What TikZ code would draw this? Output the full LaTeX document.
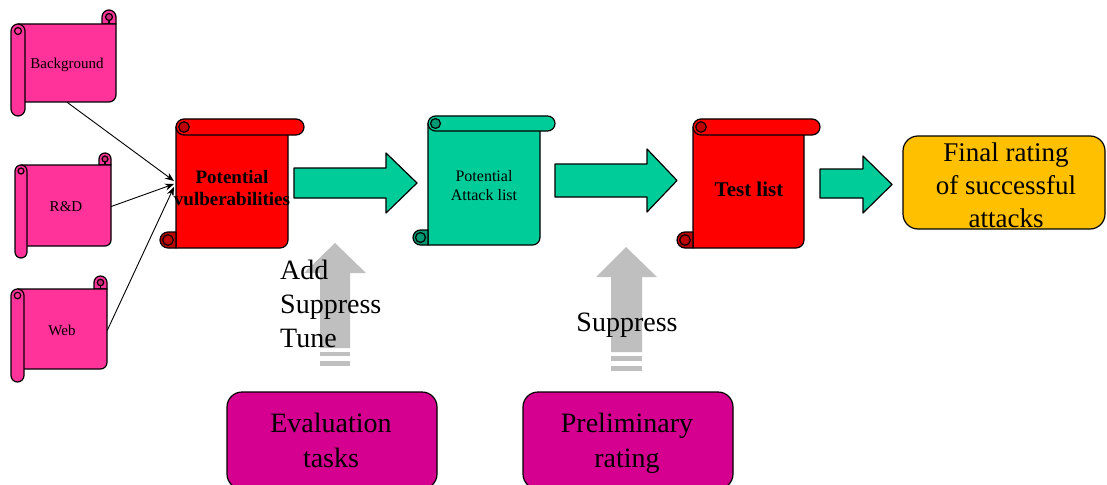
\documentclass[tikz,border=0pt]{standalone}
\usepackage{fontspec}
\setmainfont{Liberation Serif}
\usetikzlibrary{arrows.meta,calc}
\definecolor{pinkS}{HTML}{FF3399}
\definecolor{redS}{HTML}{FF0000}
\definecolor{tealS}{HTML}{00CC99}
\definecolor{goldS}{HTML}{FFC000}
\definecolor{magS}{HTML}{D5008F}
\definecolor{grayA}{HTML}{BFBFBF}
\tikzset{
  outl/.style={draw=black, line width=1.2pt, line join=round},
  conn/.style={draw=black, line width=0.9pt, -{Stealth[length=9pt,width=7pt]}},
  blockarrow/.style={outl, fill=tealS},
  grayarrow/.style={fill=grayA, draw=none},
  smalltxt/.style={font=\fontsize{15}{18}\selectfont, align=center, inner sep=0pt},
  bigbox/.style={outl, rounded corners=15pt, inner sep=0pt},
  bigtxt/.style={font=\fontsize{28}{34}\selectfont, align=center, inner sep=0pt}
}
% vertical scroll: x0 y0 x1 y1 fill roll
\newcommand\vscroll[6]{%
  \pgfmathsetmacro\hh{#6/2}%
  \pgfmathsetmacro\qq{#6/4}%
  \filldraw[outl,fill=#5] ({#3-#6},{#2+#6}) -- ({#3-#6},{#2+\hh}) arc[start angle=180,end angle=360,radius=\hh] -- ({#3},{#2+#6}) -- cycle;
  \filldraw[outl,fill=#5] ({#1+\hh},{#2+#6}) -- ({#3},{#2+#6}) -- ({#3},{#4-#6-\hh}) arc[start angle=0,end angle=90,radius=\hh] -- ({#1+\hh},{#4-#6}) -- cycle;
  \filldraw[outl,fill=#5,rounded corners=\hh pt] ({#1},{#2+#6}) rectangle ({#1+#6},{#4});
  \filldraw[outl,fill=#5!80!black] ({#3-\hh},{#2+\hh}) circle[radius=\qq];
  \draw[outl] ({#3-\hh},{#2+\hh+\qq}) -- ({#3-\hh},{#2+#6});
  \draw[outl] ({#1+\hh},{#2+#6+\hh}) circle[radius=\qq];
}
% horizontal scroll: x0 y0 x1 y1 fill roll
\newcommand\hscroll[6]{%
  \pgfmathsetmacro\hh{#6/2}%
  \pgfmathsetmacro\qq{#6*0.33}%
  \filldraw[outl,fill=#5] ({#1+#6},{#2+\hh}) -- ({#3-#6},{#2+\hh}) -- ({#3-#6},{#4-\hh}) arc[start angle=0,end angle=90,radius=\hh] -- ({#1+#6},{#4}) -- cycle;
  \filldraw[outl,fill=#5,rounded corners=\hh pt] ({#1+#6},{#2}) rectangle ({#3},{#2+#6});
  \filldraw[outl,fill=#5!75!black] ({#1+#6+\hh},{#2+\hh}) circle[radius=\qq];
  \filldraw[outl,fill=#5!75!black] ({#1+#6},{#4-#6}) -- ({#1+\hh},{#4-#6}) arc[start angle=270,end angle=90,radius=\hh] -- ({#1+#6},{#4}) -- cycle;
  \draw[outl] ({#1+\hh},{#4-\hh}) circle[radius=\qq];
}
\begin{document}
\begin{tikzpicture}[x=1pt,y=-1pt]
\clip (0,0) rectangle (1107,484);
\fill[white] (0,0) rectangle (1107,484);

% pink scrolls
\vscroll{11}{10}{116}{116}{pinkS}{14}
\vscroll{15}{153}{111}{258}{pinkS}{12}
\vscroll{11}{276}{107}{382}{pinkS}{13}
\node[smalltxt, minimum width=98pt, minimum height=74pt] (bg) at (67,65) {Background};
\node[smalltxt, minimum width=90pt, minimum height=81pt] (rd) at (66,206.5) {R\&D};
\node[smalltxt, minimum width=90pt, minimum height=80pt] (web) at (62,330.5) {Web};

% main scrolls
\hscroll{160}{119}{304}{248}{redS}{16}
\hscroll{413}{116}{555}{245}{tealS}{15}
\hscroll{677}{119}{820}{248}{redS}{16}
\node[align=center, inner sep=0pt, font=\fontsize{19}{22}\selectfont\bfseries] (vul) at (232,188.5) {Potential\\vulberabilities};
\node[align=center, inner sep=0pt, font=\fontsize{16}{19}\selectfont] (pal) at (484,186) {Potential\\Attack list};
\node[align=center, inner sep=0pt, font=\fontsize{21}{24}\selectfont\bfseries] (tl) at (749,189) {Test list};

% connectors into vulnerabilities scroll
\coordinate (t1) at (174,181);
\coordinate (t2) at (174,184);
\coordinate (t3) at (174,187);
\draw[conn] (bg.south) -- (t1);
\draw[conn] (rd.east) -- (t2);
\draw[conn] (web.east) -- (t3);

% green block arrows
\filldraw[blockarrow] (294,168) -- (386,168) -- (386,153) -- (417,183) -- (386,213) -- (386,198) -- (294,198) -- cycle;
\filldraw[blockarrow] (555,164) -- (647,164) -- (647,149) -- (677,180.5) -- (647,212) -- (647,197) -- (555,197) -- cycle;
\filldraw[blockarrow] (820,169) -- (863,169) -- (863,156) -- (892,184.5) -- (863,213) -- (863,198) -- (820,198) -- cycle;

% final rating box
\node[bigbox, fill=goldS, minimum width=202pt, minimum height=93pt] (fin) at (1004,182.5) {};
\node[bigtxt, font=\fontsize{27}{33}\selectfont] (fintxt) at (1006,185.5) {Final rating\\of successful\\attacks};

% gray arrows
\fill[grayarrow] (335,243) -- (366,273) -- (350,273) -- (350,348) -- (320,348) -- (320,273) -- (304,273) -- cycle;
\fill[grayarrow] (320,352) rectangle (350,356);
\fill[grayarrow] (320,361) rectangle (350,366);
\fill[grayarrow] (626,247) -- (657,277) -- (642,277) -- (642,352) -- (611,352) -- (611,277) -- (596,277) -- cycle;
\fill[grayarrow] (611,356) rectangle (642,361);
\fill[grayarrow] (611,366) rectangle (642,371);

\node[bigtxt, anchor=west, align=left] (ast) at (280,304) {Add\\Suppress\\Tune};
\node[bigtxt] (sup) at (627,325) {Suppress};

% bottom boxes
\node[bigbox, fill=magS, minimum width=210pt, minimum height=97pt] (eval) at (332,440.5) {};
\node[bigtxt, font=\fontsize{28}{35}\selectfont] (evaltxt) at (331,440.5) {Evaluation\\tasks};
\node[bigbox, fill=magS, minimum width=210pt, minimum height=97pt] (prel) at (628,440.5) {};
\node[bigtxt, font=\fontsize{28}{35}\selectfont] (preltxt) at (627,443.6) {Preliminary\\rating};
\end{tikzpicture}
\end{document}
